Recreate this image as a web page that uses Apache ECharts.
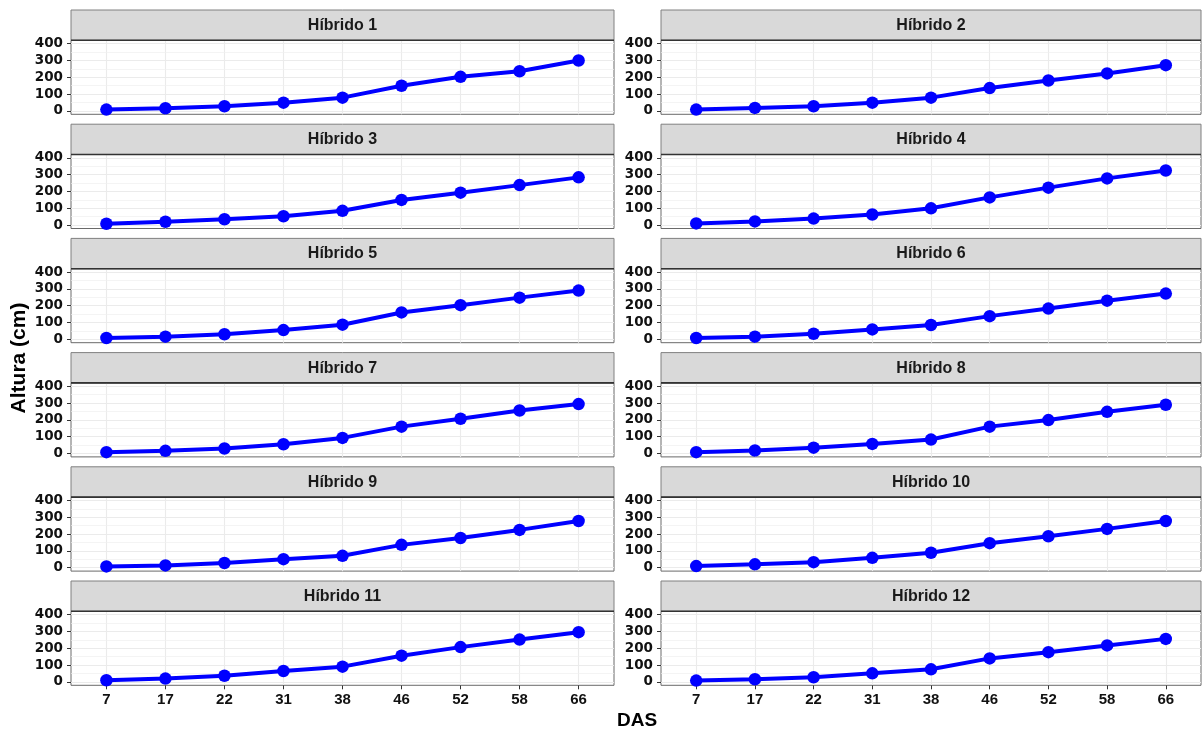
<!DOCTYPE html>
<html>
<head>
<meta charset="utf-8">
<script src="https://cdn.jsdelivr.net/npm/echarts@6/dist/echarts.min.js"></script>
<style>
  html, body { margin: 0; padding: 0; background: #ffffff; }
  #chart { width: 1202px; height: 731px; }
</style>
</head>
<body>
<div id="chart"></div>
<script>
// Days after sowing (DAS) and plant height (cm) per hybrid
const das = ['7', '17', '22', '31', '38', '46', '52', '58', '66'];
const hibridos = ['Híbrido 1', 'Híbrido 2', 'Híbrido 3', 'Híbrido 4', 'Híbrido 5', 'Híbrido 6',
                  'Híbrido 7', 'Híbrido 8', 'Híbrido 9', 'Híbrido 10', 'Híbrido 11', 'Híbrido 12'];
const h1  = [8, 16, 28, 49, 79, 150, 203, 236, 300];
const h2  = [8, 18, 28, 49, 79, 136, 181, 223, 272];
const h3  = [8, 20, 35, 53, 85, 150, 193, 238, 284];
const h4  = [10, 22, 39, 63, 100, 165, 223, 278, 325];
const h5  = [8, 16, 30, 55, 87, 160, 203, 248, 290];
const h6  = [8, 16, 33, 59, 85, 138, 183, 230, 272];
const h7  = [8, 16, 30, 55, 93, 160, 207, 256, 294];
const h8  = [8, 18, 35, 57, 83, 160, 199, 248, 290];
const h9  = [8, 14, 28, 51, 71, 136, 177, 225, 278];
const h10 = [10, 20, 33, 59, 89, 146, 187, 231, 278];
const h11 = [10, 20, 37, 65, 91, 156, 207, 252, 296];
const h12 = [8, 16, 28, 51, 75, 140, 177, 217, 256];
const alturas = [h1, h2, h3, h4, h5, h6, h7, h8, h9, h10, h11, h12];
const yTicks = [0, 100, 200, 300, 400];
const yMinor = [50, 150, 250, 350];

// Facet layout (2 columns x 6 rows)
const colLeft = [71, 661];
const colWidth = [543, 540];
const rowTop0 = 10;
const rowPitch = 114.2;
const stripH = 30.3;
const plotH = 74;
const nRows = 6;

const idx = das.map((d, k) => k);
const grids = [], xAxes = [], yAxes = [], series = [], graphics = [];

alturas.forEach((vals, i) => {
  const c = i % 2;
  const r = Math.floor(i / 2);
  const stripTop = rowTop0 + r * rowPitch;
  const plotTop = stripTop + stripH;
  const bottomRow = r === nRows - 1;

  grids.push({
    left: colLeft[c], top: plotTop, width: colWidth[c], height: plotH,
    show: true, backgroundColor: '#ffffff', borderColor: '#6a6a6a', borderWidth: 1
  });

  xAxes.push({
    gridIndex: i, type: 'value', min: -0.6, max: 8.6, position: 'bottom',
    axisLine: { show: false, onZero: false },
    axisTick: { show: bottomRow, customValues: idx, length: 4, lineStyle: { color: '#333333', width: 1 } },
    axisLabel: {
      show: bottomRow, customValues: idx, formatter: v => das[v], margin: 7,
      fontFamily: 'Liberation Sans', fontWeight: 'bold', fontSize: 15, color: '#111111'
    },
    splitLine: { show: true, lineStyle: { color: '#EBEBEB', width: 1.1 } }
  });

  yAxes.push({
    gridIndex: i, type: 'value', min: -20, max: 420, position: 'left',
    axisLine: { show: false, onZero: false },
    axisTick: { show: true, customValues: yTicks, length: 4, lineStyle: { color: '#333333', width: 1 } },
    axisLabel: {
      customValues: yTicks, margin: 8,
      fontFamily: 'DejaVu Sans', fontWeight: 'bold', fontSize: 13.5, color: '#111111'
    },
    splitLine: { show: true, lineStyle: { color: '#EBEBEB', width: 1.1 } }
  });

  // minor horizontal grid lines, kept beneath the data line
  series.push({
    type: 'line', xAxisIndex: i, yAxisIndex: i, data: [], z: 1, silent: true,
    markLine: {
      z: 1, silent: true, symbol: 'none', animation: false,
      label: { show: false },
      lineStyle: { color: '#EFEFEF', width: 0.7, type: 'solid' },
      data: yMinor.map(v => ({ yAxis: v }))
    }
  });

  series.push({
    type: 'line', name: hibridos[i], xAxisIndex: i, yAxisIndex: i, z: 3,
    data: vals.map((v, k) => [k, v]),
    symbol: 'circle', symbolSize: 12.5, showSymbol: true,
    lineStyle: { color: '#0000FF', width: 4 },
    itemStyle: { color: '#0000FF', borderWidth: 0 }
  });

  // facet strip
  graphics.push({
    type: 'rect', z: 5,
    shape: { x: colLeft[c], y: stripTop, width: colWidth[c], height: stripH },
    style: { fill: '#D9D9D9', stroke: '#808080', lineWidth: 1 }
  });
  graphics.push({
    type: 'line', z: 6,
    shape: { x1: colLeft[c], y1: plotTop, x2: colLeft[c] + colWidth[c], y2: plotTop },
    style: { stroke: '#333333', lineWidth: 1.6 }
  });
  graphics.push({
    type: 'text', z: 7,
    x: colLeft[c] + colWidth[c] / 2, y: stripTop + stripH / 2 + 0.5,
    style: {
      text: hibridos[i], fontFamily: 'Liberation Sans', fontWeight: 'bold', fontSize: 16,
      fill: '#1a1a1a', align: 'center', verticalAlign: 'middle'
    }
  });
});

// axis titles
graphics.push({
  type: 'text', z: 7, x: 19, y: 358, rotation: Math.PI / 2,
  style: {
    text: 'Altura (cm)', fontFamily: 'Liberation Sans', fontWeight: 'bold', fontSize: 21,
    fill: '#000000', align: 'center', verticalAlign: 'middle'
  }
});
graphics.push({
  type: 'text', z: 7, x: 637, y: 721,
  style: {
    text: 'DAS', fontFamily: 'Liberation Sans', fontWeight: 'bold', fontSize: 19,
    fill: '#000000', align: 'center', verticalAlign: 'middle'
  }
});

const chart = echarts.init(document.getElementById('chart'), null, { renderer: 'canvas' });
chart.setOption({
  animation: false,
  backgroundColor: '#ffffff',
  grid: grids,
  xAxis: xAxes,
  yAxis: yAxes,
  series: series,
  graphic: graphics
});
</script>
</body>
</html>
